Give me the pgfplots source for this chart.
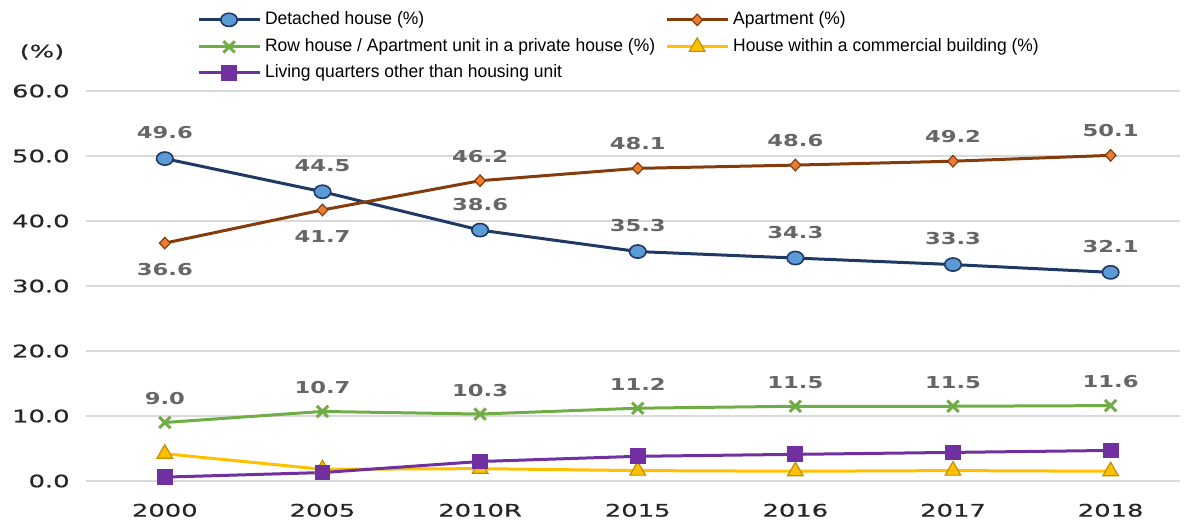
\documentclass[border=0pt]{standalone}
\usepackage{fontspec}
\usepackage{pgfplots}
\pgfplotsset{compat=1.18}
\usepackage{pgfplotstable}
\setmainfont{Liberation Sans}
\newfontfamily\legfont[FakeStretch=0.97]{Liberation Sans}
\newfontfamily\tickfont[FakeStretch=1.5,FakeBold=0.6]{DejaVu Sans}
\newfontfamily\lblfont[FakeStretch=1.38]{DejaVu Sans}
\definecolor{navy}{HTML}{203864}
\definecolor{lblue}{HTML}{5B9BD5}
\definecolor{brown}{HTML}{843C0C}
\definecolor{orng}{HTML}{ED7D31}
\definecolor{grn}{HTML}{70AD47}
\definecolor{ylw}{HTML}{FFC000}
\definecolor{ylwd}{HTML}{BF9000}
\definecolor{purp}{HTML}{7030A0}
\definecolor{lblgray}{HTML}{666666}
\definecolor{gridc}{HTML}{D9D9D9}
\pgfplotstableread{
x det apt row com liv
0 49.6 36.6 9.0 4.2 0.6
1 44.5 41.7 10.7 1.8 1.3
2 38.6 46.2 10.3 1.9 3.0
3 35.3 48.1 11.2 1.6 3.8
4 34.3 48.6 11.5 1.5 4.1
5 33.3 49.2 11.5 1.6 4.4
6 32.1 50.1 11.6 1.5 4.7
}\datatable
\begin{document}
\begin{tikzpicture}
\useasboundingbox (-43pt,-19.5pt) rectangle (549pt,240.5pt);
\begin{axis}[
  at={(0,0)}, anchor=south west,
  scale only axis, width=547pt, height=195pt,
  xmin=-0.5, xmax=6.44, ymin=0, ymax=60,
  clip=false,
  axis line style={draw=none},
  tick style={draw=none},
  ymajorgrids, grid style={gridc, line width=0.7pt},
  ytick={0,10,...,60},
  xtick={0,...,6},
  xticklabels={2000,2005,2010R,2015,2016,2017,2018},
  /pgf/number format/assume math mode=true,
  yticklabel={\pgfmathprintnumber[fixed,fixed zerofill,precision=1]{\tick}},
  yticklabel style={anchor=east, inner sep=0pt, xshift=-8pt, font=\tickfont\fontsize{8.6}{10}\selectfont, text=black!85},
  xticklabel style={anchor=north, inner sep=0pt, yshift=-11.2pt, font=\tickfont\fontsize{8.6}{10}\selectfont, text=black!85},
  legend columns=2,
  legend cell align=left,
  legend image code/.code={\draw[mark repeat=2,mark phase=2] plot coordinates {(0pt,0pt)(15.25pt,0pt)(30.5pt,0pt)};},
  legend style={at={(0.1015,1.203)}, anchor=north west, draw=none, fill=none,
    inner sep=0pt, outer sep=0pt, row sep=5pt,
    font=\legfont\fontsize{9}{10}\selectfont,
    nodes={inner xsep=2pt, inner ysep=0pt},
    /tikz/every even column/.append style={column sep=3pt}},
  nodes near coords style={font=\lblfont\bfseries\fontsize{8.2}{10}\selectfont, text=lblgray, inner sep=0pt},
]
% Detached
\addplot[navy, line width=1.5pt, mark=*, mark size=3.3pt,
  mark options={xscale=1.25, fill=lblue, draw=navy, line width=0.8pt},
  nodes near coords={\pgfmathprintnumber[fixed,fixed zerofill,precision=1]{\pgfplotspointmeta}},
  nodes near coords style={anchor=south, yshift=9.5pt}]
  table[x=x,y=det]{\datatable};
\addlegendentry{Detached house (\%)}
% Apartment
\addplot[brown, line width=1.5pt, mark=diamond*, mark size=3.6pt,
  mark options={yscale=0.8, fill=orng, draw=brown, line width=0.6pt}]
  table[x=x,y=apt]{\datatable};
\addlegendentry{Apartment (\%)}
% Row house
\addplot[grn, line width=1.5pt, mark=x, mark size=4pt,
  mark options={line width=1.5pt},
  nodes near coords={\pgfmathprintnumber[fixed,fixed zerofill,precision=1]{\pgfplotspointmeta}},
  nodes near coords style={anchor=south, yshift=8pt}]
  table[x=x,y=row]{\datatable};
\addlegendentry{Row house / Apartment unit in a private house (\%)}
% Commercial
\addplot[ylw, line width=1.5pt, mark=triangle*, mark size=4.5pt,
  mark options={fill=ylw, draw=ylwd, line width=0.6pt}]
  table[x=x,y=com]{\datatable};
\addlegendentry{House within a commercial building (\%)}
% Living quarters
\addplot[purp, line width=1.5pt, mark=square*, mark size=3.2pt,
  mark options={fill=purp, draw=purp}]
  table[x=x,y=liv]{\datatable};
\addlegendentry{Living quarters other than housing unit}
% Apartment labels
\addplot[draw=none, mark=none, forget plot,
  nodes near coords={\pgfmathprintnumber[fixed,fixed zerofill,precision=1]{\pgfplotspointmeta}},
  nodes near coords style={anchor=north, yshift=-10pt}]
  coordinates {(0,36.6) (1,41.7)};
\addplot[draw=none, mark=none, forget plot,
  nodes near coords={\pgfmathprintnumber[fixed,fixed zerofill,precision=1]{\pgfplotspointmeta}},
  nodes near coords style={anchor=south, yshift=9pt}]
  coordinates {(2,46.2) (3,48.1) (4,48.6) (5,49.2) (6,50.1)};
\node[font=\tickfont\fontsize{8.6}{10}\selectfont, text=black!85] at (rel axis cs:0,1) [xshift=-22pt, yshift=19.5pt] {(\%)};
\end{axis}
\end{tikzpicture}
\end{document}
